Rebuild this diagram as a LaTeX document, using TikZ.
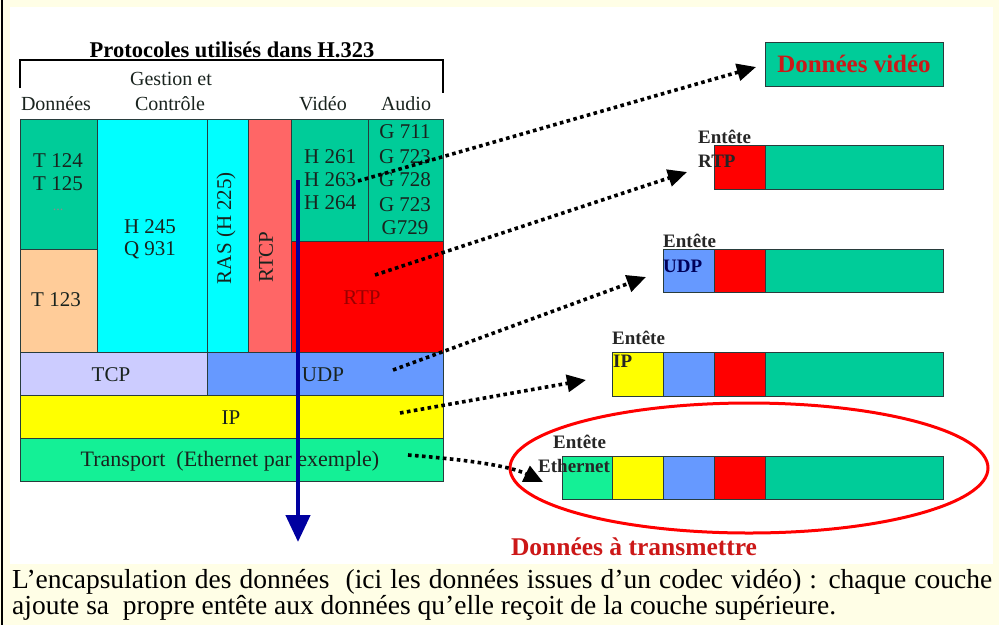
\documentclass[tikz,border=0pt]{standalone}
\usepackage{fontspec}
\setmainfont{Liberation Serif}
\usetikzlibrary{arrows.meta}
\definecolor{cream}{RGB}{255,254,230}
\definecolor{teal1}{RGB}{0,204,153}
\definecolor{peach}{RGB}{255,204,153}
\definecolor{cyan1}{RGB}{0,255,255}
\definecolor{salmon}{RGB}{255,102,102}
\definecolor{red1}{RGB}{255,0,0}
\definecolor{lav}{RGB}{204,204,255}
\definecolor{blue1}{RGB}{102,153,255}
\definecolor{yel}{RGB}{255,255,0}
\definecolor{grn}{RGB}{20,240,150}
\definecolor{navy1}{RGB}{0,0,160}
\definecolor{txtred}{RGB}{204,24,24}
\definecolor{stroke}{RGB}{40,60,60}
\definecolor{txtc}{RGB}{25,35,30}
\begin{document}
\begin{tikzpicture}[x=1pt,y=-1pt,
  cell/.style={draw=stroke, line width=0.7pt},
  lbl/.style={font=\fontsize{21}{23}\selectfont, text=txtc, inner sep=0pt},
  hdr/.style={font=\fontsize{20}{22}\selectfont, text=txtc, inner sep=0pt, anchor=base},
  ent/.style={font=\bfseries\fontsize{19}{21}\selectfont, text=black!85, anchor=base west, inner sep=0pt},
  darrow/.style={line width=3.6pt, dash pattern=on 3.6pt off 3.4pt, -{Triangle[length=19pt,width=17pt]}},
  captext/.style={font=\fontsize{27.5}{29}\selectfont, anchor=base west, inner sep=0pt}]
\useasboundingbox (0,0) rectangle (999,625);
% backgrounds
\fill[cream] (0,0) rectangle (999,625);
\fill[white] (10,7) rectangle (993,564);
\draw[line width=1.3pt] (2,0) -- (2,625);
% title and bracket
\node[font=\bfseries\fontsize{22.5}{24}\selectfont, anchor=base, inner sep=0pt] (title) at (232,57) {Protocoles utilisés dans H.323};
\draw[line width=1.1pt] (20,88) -- (20,60) -- (443,60) -- (443,93);
\node[hdr] (hdon) at (56,110) {Données};
\node[hdr] (hges) at (171,85) {Gestion et};
\node[hdr] (hcon) at (170,110) {Contrôle};
\node[hdr] (hvid) at (323,110) {Vidéo};
\node[hdr] (haud) at (406,110) {Audio};
% stack cells
\filldraw[cell, fill=teal1] (20,119) rectangle (97,249);
\filldraw[cell, fill=peach] (20,249) rectangle (97,352);
\filldraw[cell, fill=cyan1] (97,119) rectangle (207,352);
\filldraw[cell, fill=cyan1] (207,119) rectangle (248,352);
\filldraw[cell, fill=salmon] (248,119) rectangle (291,352);
\filldraw[cell, fill=teal1] (291,119) rectangle (368,241);
\filldraw[cell, fill=teal1] (368,119) rectangle (443,241);
\filldraw[cell, fill=red1] (291,241) rectangle (443,352);
\filldraw[cell, fill=lav] (20,352) rectangle (207,395);
\filldraw[cell, fill=blue1] (207,352) rectangle (443,395);
\filldraw[cell, fill=yel] (20,395) rectangle (443,438);
\filldraw[cell, fill=grn] (20,438) rectangle (443,481);
% stack labels
\node[lbl] (t124) at (58,161) {T 124};
\node[lbl] (t125) at (58,184) {T 125};
\node[lbl, text=black!45, font=\fontsize{14}{16}\selectfont] (tdots) at (58,210) {...};
\node[lbl] (t123) at (56,300) {T 123};
\node[lbl] (h245) at (150,227) {H 245};
\node[lbl] (q931) at (150,250) {Q 931};
\node[lbl, rotate=90] (ras) at (226,228) {RAS (H 225)};
\node[lbl, rotate=90] (rtcp) at (266,257) {RTCP};
\node[lbl, anchor=west] (h261) at (304,157) {H 261};
\node[lbl, anchor=west] (h263) at (304,180) {H 263};
\node[lbl, anchor=west] (h264) at (304,203) {H 264};
\node[lbl] (g711) at (405,132) {G 711};
\node[lbl] (g723) at (405,157) {G 723};
\node[lbl] (g728) at (405,180) {G 728};
\node[lbl] (g723b) at (405,205) {G 723};
\node[lbl] (g729) at (405,228) {G729};
\node[lbl, text=red!60!black] (rtp) at (362,298) {RTP};
\node[lbl] (tcp) at (111,375) {TCP};
\node[lbl] (udp) at (323,375) {UDP};
\node[lbl] (ip) at (231,418) {IP};
\node[lbl, font=\fontsize{22}{24}\selectfont] (trans) at (230,461) {Transport\ \ (Ethernet par exemple)};
% packets
\filldraw[cell, fill=teal1] (765,42) rectangle (943,86);
\node[font=\bfseries\fontsize{25}{27}\selectfont, text=txtred, inner sep=0pt] (dvid) at (854,64) {Données vidéo};
% RTP packet
\filldraw[cell, fill=red1] (714,145) rectangle (765,189);
\filldraw[cell, fill=teal1] (765,145) rectangle (943,189);
\node[ent] (ertp) at (698,143) {Entête};
\node[ent] (lrtp) at (698,167) {RTP};
% UDP packet
\filldraw[cell, fill=blue1] (663,249) rectangle (714,292);
\filldraw[cell, fill=red1] (714,249) rectangle (765,292);
\filldraw[cell, fill=teal1] (765,249) rectangle (943,292);
\node[ent] (eudp) at (663,247) {Entête};
\node[ent, text={rgb,255:red,0;green,0;blue,90}] (ludp) at (663,272) {UDP};
% IP packet
\filldraw[cell, fill=yel] (612,352) rectangle (663,396);
\filldraw[cell, fill=blue1] (663,352) rectangle (714,396);
\filldraw[cell, fill=red1] (714,352) rectangle (765,396);
\filldraw[cell, fill=teal1] (765,352) rectangle (943,396);
\node[ent] (eip) at (612,344) {Entête};
\node[ent] (lip) at (613,367) {IP};
% Ethernet packet
\filldraw[cell, fill=grn] (562,456) rectangle (612,499);
\filldraw[cell, fill=yel] (612,456) rectangle (663,499);
\filldraw[cell, fill=blue1] (663,456) rectangle (714,499);
\filldraw[cell, fill=red1] (714,456) rectangle (765,499);
\filldraw[cell, fill=teal1] (765,456) rectangle (943,499);
\node[ent] (eeth) at (553,448) {Entête};
\node[ent] (leth) at (538,472) {Ethernet};
% ellipse
\draw[red1, line width=3pt] (749,468) ellipse [x radius=239, y radius=65];
\node[font=\bfseries\fontsize{25.5}{27}\selectfont, text=txtred, inner sep=0pt, anchor=base] (dtx) at (634,555) {Données à transmettre};
% vertical blue arrow
\coordinate (vtop) at (298,180);
\coordinate (vbot) at (298,542);
\draw[navy1, line width=4.5pt, -{Triangle[length=27pt,width=24pt]}] (vtop) -- (vbot);
% dotted arrows
\coordinate (s1) at (358,181); \coordinate (e1) at (756,67);
\coordinate (s2) at (375,275); \coordinate (e2) at (687,172);
\coordinate (s3) at (393,370); \coordinate (e3) at (646,277);
\coordinate (s4) at (400,413); \coordinate (e4) at (586,380);
\coordinate (s5) at (408,455); \coordinate (e5) at (543,482);
\draw[darrow] (s1) -- (e1);
\draw[darrow] (s2) -- (e2);
\draw[darrow] (s3) -- (e3);
\draw[darrow] (s4) -- (e4);
\draw[darrow] (s5) .. controls (470,460) and (510,466) .. (e5);
% caption
\node[captext] (cap1) at (12,588) {\makebox[980pt][s]{L’encapsulation des données\ \ (ici les données issues d’un codec vidéo) : chaque couche}};
\node[captext] (cap2) at (12,614) {ajoute sa\ \ propre entête aux données qu’elle reçoit de la couche supérieure.};
\end{tikzpicture}
\end{document}
